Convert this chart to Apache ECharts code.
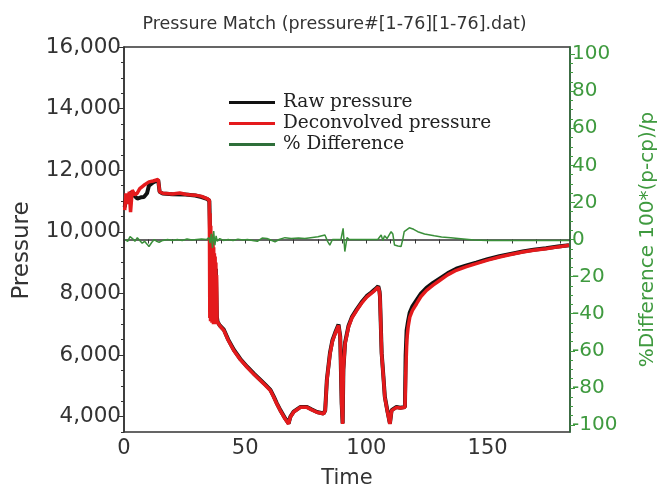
<!DOCTYPE html>
<html>
<head>
<meta charset="utf-8">
<script src="https://cdn.jsdelivr.net/npm/echarts@6/dist/echarts.min.js"></script>
<style>
  html, body { margin: 0; padding: 0; background: #ffffff; }
  #chart { width: 669px; height: 489px; }
</style>
</head>
<body>
<div id="chart"></div>
<script>
// Measured gauge pressure (psi) against elapsed time (hr)
const rawTime = [
  0.3, 1, 2, 3, 4.5, 5.5, 7, 8.2, 9.5, 10.3, 12, 14.1, 14.7, 16, 20, 25.3, 29.4, 32, 34.2, 35.2,
  35.5, 35.9, 36.3, 36.7, 37.1, 37.5, 37.9, 38.3, 38.6, 39.5, 41.2, 43, 45.3, 48, 50.8, 53.5, 56.3,
  58.5, 60.4, 61.8, 63, 64.5, 66.5, 67.9, 68.6, 70, 72.7, 75.5, 77.5, 79.6, 82.3, 83, 83.7, 85, 86,
  87.1, 88.5, 89.2, 89.8, 90.2, 90.5, 91.2, 92.6, 94, 96, 98, 100.1, 102, 103.5, 104.9, 105.4, 105.6,
  106.3, 107, 107.6, 108.7, 109.7, 110.4, 112.4, 114, 115.9, 116.2, 116.6, 117.2, 117.9, 119, 120.7,
  122.5, 124.8, 127.5, 130.2, 133.5, 137.1, 141, 145.3, 150, 154.9, 160, 164.5, 169, 174.1, 179, 183.6
];
const rawPressure = [
  10800, 11200, 11000, 11300, 11150, 11080, 11120, 11130, 11250, 11500, 11600, 11680, 11300, 11240,
  11220, 11210, 11180, 11130, 11070, 11010,
  10000, 9600, 9900, 8200, 9236, 7400, 8800, 7250, 7080, 6960, 6820, 6500, 6170, 5870, 5620, 5400, 5190,
  5020, 4870, 4650, 4440, 4210, 3940, 3780, 3990, 4160, 4310, 4310, 4230, 4150, 4100, 4200, 5200, 6080, 6480,
  6720, 6990, 6600, 4430, 3780, 5530, 6400, 6940, 7230, 7480, 7710, 7910, 8030, 8130, 8230, 8070, 7900,
  6060, 5320, 4650, 4170, 3780, 4210, 4310, 4290, 4310, 6000, 6800, 7100, 7380, 7580, 7780,
  7990, 8180, 8340, 8480, 8650, 8800, 8900, 9000, 9110, 9205, 9290, 9360, 9415, 9465, 9520, 9565
];

// Pressure recovered by deconvolution
const deconvTime = [
  0.3, 0.8, 1.5, 2.2, 2.7, 3.4, 4.5, 5.4, 6.5, 8.2, 10.3, 12, 14.1, 14.5, 14.7, 16, 20, 23, 25.3, 27,
  29.4, 32, 34.2, 35.2, 35.4, 35.5, 35.7, 35.8, 36.0, 36.1, 36.3, 36.4, 36.6, 36.7, 36.9, 37.0, 37.2,
  37.3, 37.5, 37.6, 37.8, 37.9, 38.1, 38.2, 38.4, 38.6, 39.5,
  41.2, 43, 45.3, 48, 50.8, 53.5, 56.3, 58.5, 60.4, 61.8, 63, 64.5, 66.5, 67.9, 68.6, 70, 72.7, 75.5,
  77.5, 79.6, 82.3, 83, 83.7, 85, 86, 87.1, 88.5, 89.2, 89.8, 90.2, 90.5, 91.2, 92.6, 94, 96, 98,
  100.1, 102, 103.5, 104.9, 105.4, 105.6, 106.3, 107, 107.6, 108.7, 109.7, 110.4, 112.4, 114, 115.9,
  116.3, 116.7, 117.2, 117.9, 119, 120.7, 122.5, 124.8, 127.5, 130.2, 133.5, 137.1, 141, 145.3, 150,
  154.9, 160, 164.5, 169, 174.1, 179, 183.6
];
const deconvPressure = [
  10700, 11250, 10900, 11300, 10640, 11350, 11200, 11250, 11400, 11510, 11620, 11650, 11700, 11680,
  11300, 11250, 11230, 11260, 11220, 11200, 11190, 11150, 11080, 11025, 7200, 10600, 7100, 10200, 7300,
  9900, 7050, 9700, 7200, 9600, 7000, 9500, 7150, 9300, 7100, 9200, 7000, 9000, 7200, 8600, 7100,
  7050, 6950,
  6800, 6480, 6146, 5850, 5603, 5380, 5170, 5000, 4846, 4630, 4420, 4195, 3920, 3763, 3980, 4150, 4300,
  4300, 4220, 4140, 4090, 4195, 5170, 6040, 6450, 6690, 6960, 6580, 4410, 3760, 5500, 6365, 6905, 7200,
  7450, 7680, 7880, 8000, 8100, 8205, 8050, 7880, 6040, 5300, 4630, 4150, 3760, 4195, 4300, 4280, 4300,
  5600, 6500, 6900, 7230, 7450, 7665, 7900, 8100, 8270, 8420, 8600, 8750, 8860, 8965, 9080, 9180, 9270,
  9343, 9400, 9450, 9510, 9560
];

// Percentage difference 100*(p-cp)/p
const diffTime = [
  0.5, 1.5, 2.5, 3.5, 4.5, 5.5, 6.5, 7.5, 8.5, 9.5, 10.3, 11.5, 12.5, 13.5, 14.5, 16, 18, 20, 22, 24,
  26, 28, 30, 32, 34, 35, 35.5, 36, 36.5, 37, 37.5, 38, 38.5, 39.5, 41, 43, 45, 47, 49, 51, 53, 55, 57,
  59, 62.3, 64, 66.4, 69, 72, 74.6, 77, 80, 82.9, 84, 84.9, 86, 88, 89.5, 90.4, 91.1, 92, 93, 96, 100,
  104.7, 106.1, 106.8, 107.5, 108.5, 110.2, 110.9, 111.6, 113, 114.3, 115, 115.6, 117.7, 119.5, 121.2,
  124, 128, 131, 134.8, 140, 144.4, 150, 160, 170, 183.6
];
const diffPercent = [
  0, -1, 1.5, 0.5, -1, 1, -0.5, -2, -1, -2.5, -3.8, -1.5, 0, -1, -1.5, -0.5, 0, -0.5, 0, -0.5,
  0.3, -0.3, 0, 0.3, 0, 1, -2, 3, -4.5, 4.5, -3, 2, -1, 0.5, -0.5, 0, -0.5, 0.2, -0.3, 0, -0.5, -1, 0.8,
  0.5, -1.2, 0, 1, 0.5, 0.8, 0.5, 1, 1.5, 2.4, -1, -3, 0, 0, 0, 6, -6.5, 1, 0, 0, 0,
  0, 2.4, -0.5, 2, 0.5, 4.2, 3, -3, -3.5, -3.8, 0, 4.2, 6.3, 5.5, 4.2,
  3, 2, 1.3, 1, 0.3, -0.3, -0.5, -0.5, -0.5, -0.5
];

const timeLabels = [0, 50, 100, 150];
const pressureLabels = [4000, 6000, 8000, 10000, 12000, 14000, 16000];
const diffLabels = [-100, -80, -60, -40, -20, 0, 20, 40, 60, 80, 100];

function pairs(xs, ys) {
  return xs.map(function (x, i) { return [x, ys[i]]; });
}
function steps(from, to, step) {
  const out = [];
  for (let v = from; v <= to + 1e-9; v += step) out.push(v);
  return out;
}

const axisDark = '#333333';
const green = '#3f9a3f';
const greenDark = '#2f6f3a';
const sans = 'DejaVu Sans';

const chart = echarts.init(document.getElementById('chart'), null, { renderer: 'canvas' });

chart.setOption({
  animation: false,
  backgroundColor: '#ffffff',
  title: {
    text: 'Pressure Match (pressure#[1-76][1-76].dat)',
    left: 'center',
    top: 10,
    textStyle: { fontFamily: sans, fontSize: 17.5, fontWeight: 'normal', color: '#333333' }
  },
  legend: {
    orient: 'vertical',
    left: 224,
    top: 88,
    itemWidth: 46,
    itemHeight: 3,
    itemGap: 2,
    icon: 'rect',
    textStyle: { fontFamily: 'DejaVu Serif', fontSize: 18.5, color: '#222222', padding: [0, 0, 0, 3] },
    data: [
      { name: 'Raw pressure', itemStyle: { color: '#111111' } },
      { name: 'Deconvolved pressure', itemStyle: { color: '#e41a1c' } },
      { name: '% Difference', itemStyle: { color: greenDark } }
    ]
  },
  grid: {
    left: 124, right: 99, top: 47, bottom: 57,
    outerBoundsMode: 'none',
    containLabel: false,
    show: true, borderColor: axisDark, borderWidth: 1.5, backgroundColor: 'transparent'
  },
  xAxis: [{
    type: 'value',
    min: 0,
    max: 184,
    name: 'Time',
    nameLocation: 'middle',
    nameGap: 36,
    nameTextStyle: { fontFamily: sans, fontSize: 21, color: '#333333' },
    axisLine: { show: true, lineStyle: { color: axisDark, width: 1.5 } },
    axisTick: { show: true, customValues: steps(0, 180, 10), length: 4, inside: false, lineStyle: { color: axisDark } },
    axisLabel: { customValues: timeLabels, fontFamily: sans, fontSize: 21, color: '#333333', margin: 6 },
    splitLine: { show: false }
  }],
  yAxis: [{
    type: 'value',
    position: 'left',
    min: 3500,
    max: 16000,
    name: 'Pressure',
    nameLocation: 'middle',
    nameGap: 90,
    nameTextStyle: { fontFamily: sans, fontSize: 23, color: '#333333', padding: [0, 22, 0, 0] },
    axisLine: { show: true, lineStyle: { color: axisDark, width: 1.5 } },
    axisTick: { show: true, customValues: pressureLabels, length: 6, lineStyle: { color: axisDark } },
    axisLabel: {
      customValues: pressureLabels,
      formatter: function (v) { return v.toLocaleString('en-US'); },
      fontFamily: sans, fontSize: 21.5, color: '#333333', margin: 3
    },
    splitLine: { show: false }
  }, {
    type: 'value',
    position: 'right',
    min: -103.8,
    max: 103.8,
    name: '%Difference 100*(p-cp)/p',
    nameLocation: 'middle',
    nameGap: 68,
    nameRotate: 90,
    nameTextStyle: { fontFamily: sans, fontSize: 20, color: green },
    axisLine: { show: true, lineStyle: { color: greenDark, width: 1.5 } },
    axisTick: { show: true, customValues: diffLabels, length: 5, lineStyle: { color: green } },
    axisLabel: { customValues: diffLabels, fontFamily: sans, fontSize: 20, color: green, margin: 2 },
    splitLine: { show: false }
  }, {
    // minor ticks on the pressure scale
    type: 'value',
    position: 'left',
    min: 3500,
    max: 16000,
    axisLine: { show: false },
    axisTick: { show: true, customValues: steps(3500, 16000, 500), length: 3, lineStyle: { color: axisDark } },
    axisLabel: { show: false },
    splitLine: { show: false }
  }, {
    // minor ticks on the percentage scale
    type: 'value',
    position: 'right',
    min: -103.8,
    max: 103.8,
    axisLine: { show: false },
    axisTick: { show: true, customValues: steps(-100, 100, 5), length: 3, lineStyle: { color: green } },
    axisLabel: { show: false },
    splitLine: { show: false }
  }],
  series: [{
    name: 'Raw pressure',
    type: 'line',
    yAxisIndex: 0,
    data: pairs(rawTime, rawPressure),
    showSymbol: false,
    lineStyle: { color: '#111111', width: 4 },
    itemStyle: { color: '#111111' },
    z: 2
  }, {
    name: 'Deconvolved pressure',
    type: 'line',
    yAxisIndex: 0,
    data: pairs(deconvTime, deconvPressure),
    showSymbol: false,
    lineStyle: { color: '#e41a1c', width: 3.5 },
    itemStyle: { color: '#e41a1c' },
    z: 3
  }, {
    name: '% Difference',
    type: 'line',
    yAxisIndex: 1,
    data: pairs(diffTime, diffPercent),
    showSymbol: false,
    lineStyle: { color: '#3a8f3a', width: 1.5 },
    itemStyle: { color: '#3a8f3a' },
    z: 4
  }]
});
</script>
</body>
</html>
